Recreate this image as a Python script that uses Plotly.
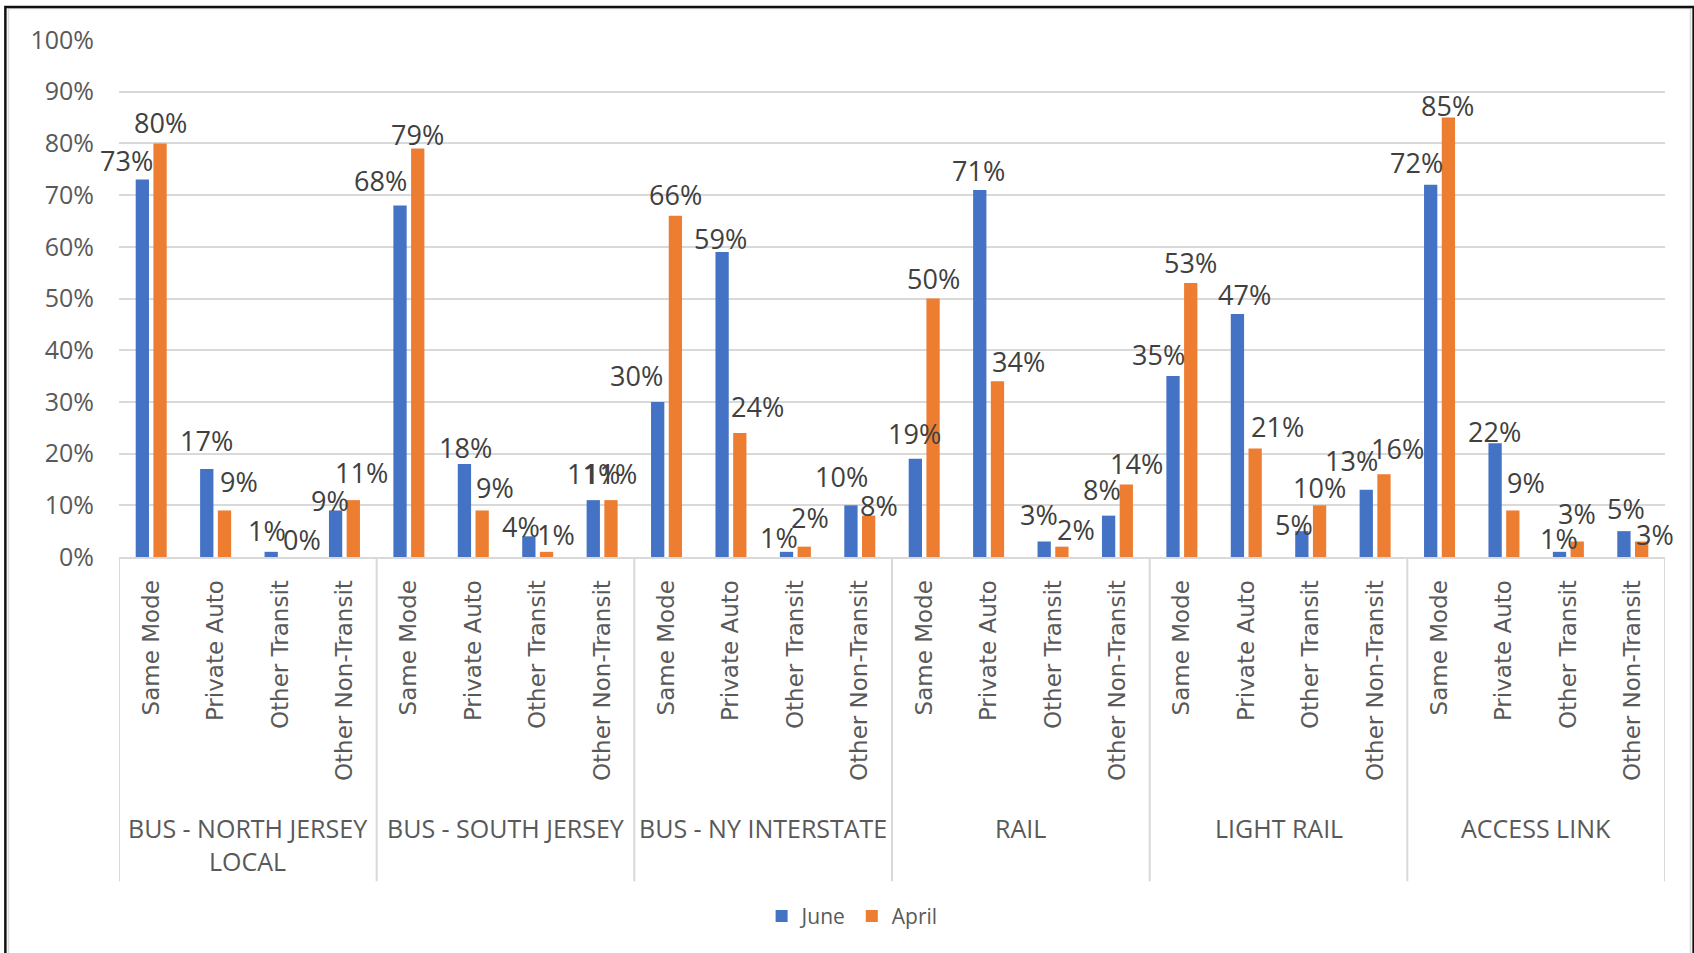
import plotly.graph_objects as go

# Survey: mode used instead, by service, June vs April
groups = ["BUS - NORTH JERSEY<br>LOCAL", "BUS - SOUTH JERSEY", "BUS - NY INTERSTATE",
          "RAIL", "LIGHT RAIL", "ACCESS LINK"]
modes = ["Same Mode", "Private Auto", "Other Transit", "Other Non-Transit"]

june = [73, 17, 1, 9,
        68, 18, 4, 11,
        30, 59, 1, 10,
        19, 71, 3, 8,
        35, 47, 5, 13,
        72, 22, 1, 5]
april = [80, 9, 0, 11,
         79, 9, 1, 11,
         66, 24, 2, 8,
         50, 34, 2, 14,
         53, 21, 10, 16,
         85, 9, 3, 3]

# label nudges in pixels (dx from category centre, dy above bar top)
june_dx = [-25, -9, -13, -14, -28, -8, -17, -9, -30, -10, -16, -18,
           -10, -10, -14, -15, -23, -2, -17, -24, -23, -9, -9, -7]
june_dy = [19, 29, 21, 10, 25, 16, 10, 27, 26, 13, 14, 29,
           25, 19, 27, 26, 22, 20, 7, 29, 22, 12, 13, 23]
april_dx = [9, 23, 22, 17, 9, 22, 18, 8, 9, 27, 15, 19,
            9, 30, 23, 19, 9, 31, 9, 22, 8, 22, 9, 22]
april_dy = [21, 29, 18, 28, 14, 23, 17, 27, 21, 26, 29, 10,
            20, 20, 17, 21, 20, 22, 18, 26, 12, 28, 28, 7]

BLUE = "#4472C4"
ORANGE = "#ED7D31"
GRID = "#D9D9D9"
TEXT = "#595959"

n_modes = len(modes)
xs = list(range(len(groups) * n_modes))
tick_text = [m for _ in groups for m in modes]

fig = go.Figure()
fig.add_trace(go.Bar(x=xs, y=[v / 100 for v in june], name="June",
                     marker=dict(color=BLUE, line=dict(width=0))))
fig.add_trace(go.Bar(x=xs, y=[v / 100 for v in april], name="April",
                     marker=dict(color=ORANGE, line=dict(width=0))))

annotations = []
label_font = dict(family="Open Sans", size=27, color="#404040")
for series, dxs, dys in ((june, june_dx, june_dy), (april, april_dx, april_dy)):
    for i, v in enumerate(series):
        annotations.append(dict(
            x=xs[i], y=v / 100, xref="x", yref="y", text=f"{v}%",
            showarrow=False, xanchor="center", yanchor="middle",
            xshift=dxs[i], yshift=dys[i], font=label_font))

# group labels under the rotated mode labels
for g, name in enumerate(groups):
    annotations.append(dict(
        x=g * n_modes + (n_modes - 1) / 2, y=-0.487, xref="x", yref="paper",
        text=name, showarrow=False, xanchor="center", yanchor="top",
        font=dict(family="Open Sans", size=25, color=TEXT)))

shapes = []
# group dividers
for g in range(len(groups) + 1):
    xb = g * n_modes - 0.5
    shapes.append(dict(type="line", xref="x", yref="paper", x0=xb, x1=xb,
                       y0=0, y1=-0.627, line=dict(color=GRID, width=2)))
# chart frame
shapes.append(dict(type="rect", xref="paper", yref="paper",
                   x0=-0.0715, x1=1.0165, y0=1.061, y1=-0.9,
                   line=dict(color=GRID, width=1.5)))
shapes.append(dict(type="rect", xref="paper", yref="paper",
                   x0=-0.0735, x1=1.0185, y0=1.064, y1=-0.9,
                   line=dict(color="#111111", width=2.5)))

fig.update_layout(
    width=1694, height=953,
    margin=dict(l=119, r=29, t=40, b=396),
    paper_bgcolor="white", plot_bgcolor="white",
    barmode="group", bargap=0.45, bargroupgap=0.25,
    showlegend=True,
    legend=dict(orientation="h", x=0.4742, y=-0.695, xanchor="center",
                yanchor="middle",
                font=dict(family="Open Sans", size=21, color=TEXT),
                itemwidth=30, itemsizing="constant"),
    annotations=annotations,
    shapes=shapes,
)
fig.update_xaxes(
    range=[-0.5, len(xs) - 0.5], tickmode="array", tickvals=xs, ticktext=tick_text,
    tickangle=-90, ticks="", showgrid=False, zeroline=False,
    showline=True, linecolor=GRID, linewidth=2, ticklabelstandoff=12,
    tickfont=dict(family="DejaVu Sans", size=23, color=TEXT),
)
fig.update_yaxes(
    range=[0, 1.0], dtick=0.1, tickformat=".0%", showgrid=True,
    gridcolor=GRID, gridwidth=2, zeroline=False, showline=False, ticks="",
    ticklabelstandoff=24,
    tickfont=dict(family="Open Sans", size=25, color=TEXT),
)

fig.write_html("out.html")
